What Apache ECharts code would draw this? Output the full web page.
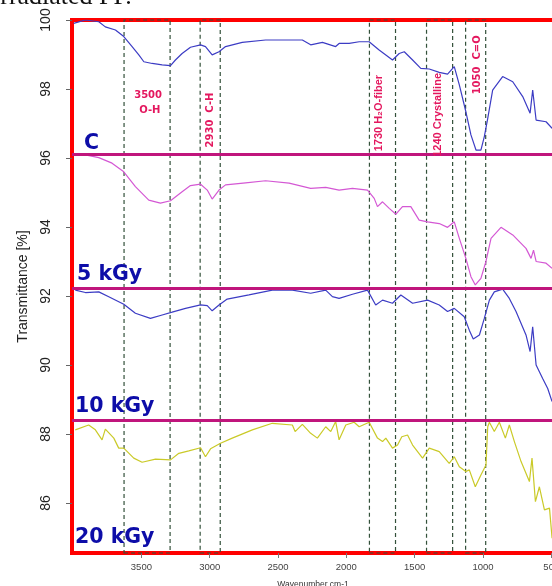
<!DOCTYPE html>
<html lang="en">
<head>
    <meta charset="UTF-8">
    <title>FTIR irradiated PP</title>
    <script src="https://cdn.jsdelivr.net/npm/echarts@6/dist/echarts.min.js"></script>
    <style>
        html, body { margin: 0; padding: 0; background: #fff; }
        #chart { width: 552px; height: 586px; }
    </style>
</head>
<body>
    <div id="chart"></div>
    <script>
        // spectra (wavenumber cm-1 / transmittance %)
        var wnC = [3996,3910,3812,3764,3690,3629,3568,3519,3482,3421,3348,3287,3251,3202,3141,3067,3031,2982,2932,2884,2762,2591,2444,2322,2261,2175,2078,2053,1979,1906,1833,1760,1662,1613,1576,1515,1455,1393,1320,1259,1210,1173,1125,1088,1051,1015,990,965,929,856,782,709,655,636,611,538,494];
        var tC = [99.90,100.0,99.95,99.8,99.71,99.52,99.23,98.99,98.79,98.74,98.70,98.68,98.84,99.03,99.21,99.28,99.23,98.99,99.08,99.23,99.35,99.42,99.42,99.42,99.28,99.35,99.23,99.32,99.32,99.37,99.37,99.13,98.84,99.03,99.08,98.84,98.6,98.58,98.48,98.43,98.65,98.12,97.34,96.67,96.23,96.23,96.62,97.15,97.97,98.36,98.21,97.78,97.3,97.97,97.1,97.05,96.86];

        var wn5 = [3996,3910,3812,3715,3629,3544,3446,3361,3287,3202,3141,3067,3018,2982,2932,2884,2737,2591,2419,2261,2151,2053,1955,1845,1796,1772,1735,1686,1637,1589,1528,1467,1405,1320,1259,1210,1173,1125,1088,1056,1015,978,941,868,782,685,648,630,611,538,494];
        var t5 = [96.12,96.09,96.01,95.85,95.6,95.17,94.78,94.69,94.76,95.02,95.2,95.24,95.07,94.81,95.07,95.22,95.28,95.34,95.27,95.12,95.15,95.07,95.12,95.07,94.83,94.59,94.73,94.54,94.37,94.59,94.59,94.2,94.15,94.1,93.99,94.15,93.67,93.09,92.56,92.32,92.51,93.0,93.67,93.99,93.77,93.38,93.09,93.33,93.0,92.95,92.8];

        var wn10 = [3984,3910,3812,3739,3629,3544,3434,3348,3275,3177,3067,3018,2982,2932,2872,2713,2542,2395,2261,2151,2102,2053,1955,1845,1785,1735,1662,1601,1515,1405,1320,1259,1210,1137,1100,1071,1026,990,953,917,856,807,758,685,655,636,611,563,526,494];
        var t10 = [92.17,92.1,92.12,91.98,91.76,91.5,91.35,91.45,91.53,91.64,91.74,91.72,91.57,91.74,91.91,92.03,92.17,92.17,92.08,92.17,91.98,91.93,92.05,92.17,91.74,91.88,91.79,92.03,91.79,91.88,91.74,91.55,91.64,91.4,91.01,90.75,90.87,91.35,91.88,92.12,92.2,91.93,91.55,90.87,90.39,91.11,90.0,89.61,89.32,88.94];

        var wn20 = [3984,3886,3837,3788,3764,3702,3666,3629,3556,3495,3397,3287,3226,3153,3067,3031,2994,2921,2835,2688,2542,2395,2375,2322,2261,2212,2151,2114,2078,2053,2004,1943,1906,1833,1772,1735,1711,1662,1625,1594,1552,1515,1442,1393,1320,1247,1210,1173,1125,1100,1056,1015,978,965,953,917,880,836,807,770,721,660,641,616,587,550,513,494];
        var t20 = [88.12,88.26,88.12,87.83,88.14,87.88,87.59,87.59,87.3,87.18,87.27,87.25,87.44,87.51,87.6,87.34,87.57,87.73,87.88,88.12,88.31,88.26,88.07,88.28,88.02,87.88,88.21,88.07,88.36,87.83,88.26,88.34,88.21,88.34,87.88,87.78,87.88,87.59,87.68,87.92,87.97,87.68,87.3,87.59,87.49,87.15,87.34,87.05,86.91,86.96,86.47,86.81,87.1,88.21,88.34,88.07,88.34,87.88,88.26,87.78,87.2,86.62,87.3,86.04,86.47,85.8,85.85,84.98];

        var xTicks = [3500, 3000, 2500, 2000, 1500, 1000, 500];
        var yTicks = [86, 88, 90, 92, 94, 96, 98, 100];

        // band limits (dashed boxes) and separator levels
        var bands = [[3627, 3290], [3070, 2923], [1831, 1640], [1413, 1222], [1127, 980]];
        var separators = [96.1, 92.22, 88.39];
        var sampleNames = ['C', '5 kGy', '10 kGy', '20 kGy'];
        var bandNotes = ['3500\n O-H', '2930  C-H', '1730 H\u2082O-fiber', '1240 Crystalline', '1050  C=O'];

        function pairs(xs, ys) {
            return xs.map(function (x, i) { return [x, ys[i]]; });
        }

        var pink = '#e4175e';
        var boldNote = { fontFamily: 'DejaVu Sans', fontWeight: 'bold', fontSize: 10, color: pink };
        var narrowNote = { fontFamily: 'Liberation Sans Narrow, Arial Narrow, sans-serif', fontWeight: 'bold', fontSize: 11, color: pink };

        var chart = echarts.init(document.getElementById('chart'));

        var option = {
            animation: false,
            grid: {
                left: 72, top: 20, width: 482, height: 533,
                show: true, borderColor: '#ff0000', borderWidth: 4,
                containLabel: false, outerBoundsMode: 'none'
            },
            xAxis: {
                type: 'value', inverse: true, min: 480, max: 4008,
                name: 'Wavenumber cm-1', nameLocation: 'middle', nameGap: 27,
                nameTextStyle: { fontSize: 8.5, color: '#333', fontFamily: 'Liberation Sans' },
                axisLine: { show: false },
                axisTick: { show: true, length: 5, customValues: xTicks, lineStyle: { color: '#777' } },
                axisLabel: {
                    customValues: xTicks, fontSize: 9.5, color: '#444', margin: 9, fontFamily: 'Liberation Sans',
                    formatter: function (v) { return String(v); }
                },
                splitLine: { show: false }
            },
            yAxis: {
                type: 'value', min: 84.55, max: 100,
                name: 'Transmittance [%]', nameLocation: 'middle', nameGap: 42,
                nameTextStyle: { fontSize: 14, color: '#222', fontFamily: 'Liberation Sans' },
                axisLine: { show: false },
                axisTick: { show: true, length: 6, customValues: yTicks, lineStyle: { color: '#666' } },
                axisLabel: { customValues: yTicks, rotate: 90, fontSize: 14, color: '#222', margin: 19, fontFamily: 'Liberation Sans' },
                splitLine: { show: false }
            },
            series: [
                {
                    name: sampleNames[0], type: 'line', showSymbol: false,
                    data: pairs(wnC, tC),
                    lineStyle: { color: '#3c3cc4', width: 1.2 },
                    z: 3,
                    markLine: {
                        silent: true, symbol: ['none', 'none'], label: { show: false },
                        lineStyle: { color: '#c0157c', width: 3, type: 'solid' },
                        data: separators.map(function (v) { return { yAxis: v }; })
                    },
                    markArea: {
                        silent: true,
                        itemStyle: { color: 'rgba(0,0,0,0)', borderColor: '#33513a', borderWidth: 1.2, borderType: [4, 3] },
                        data: bands.map(function (b) { return [{ xAxis: b[0] }, { xAxis: b[1] }]; })
                    },
                    markPoint: {
                        silent: true, symbol: 'circle', symbolSize: 0,
                        data: [
                            { coord: [3451, 97.59], label: Object.assign({ show: true, formatter: bandNotes[0], lineHeight: 15, align: 'center' }, boldNote) },
                            { coord: [2994, 97.1], label: Object.assign({ show: true, formatter: bandNotes[1], rotate: 90 }, boldNote) },
                            { coord: [1760, 97.3], label: Object.assign({ show: true, formatter: bandNotes[2], rotate: 90 }, narrowNote) },
                            { coord: [1332, 97.25], label: Object.assign({ show: true, formatter: bandNotes[3], rotate: 90 }, narrowNote) },
                            { coord: [1039, 98.7], label: Object.assign({ show: true, formatter: bandNotes[4], rotate: 90 }, boldNote) }
                        ]
                    }
                },
                { name: sampleNames[1], type: 'line', showSymbol: false, data: pairs(wn5, t5), lineStyle: { color: '#d458d4', width: 1.2 } },
                { name: sampleNames[2], type: 'line', showSymbol: false, data: pairs(wn10, t10), lineStyle: { color: '#3c3cc4', width: 1.2 } },
                { name: sampleNames[3], type: 'line', showSymbol: false, data: pairs(wn20, t20), lineStyle: { color: '#caca28', width: 1.2 } }
            ],
            graphic: [
                { type: 'text', x: -7, y: 10, style: { text: 'irradiated PP.', font: '26px "Liberation Serif"', fill: '#111', verticalAlign: 'bottom' } },
                { type: 'text', x: 84, y: 143.5, z: 10, style: { text: sampleNames[0], font: 'bold 20.5px "DejaVu Sans"', fill: '#0d0da8', verticalAlign: 'middle' } },
                { type: 'text', x: 77, y: 274.5, z: 10, style: { text: sampleNames[1], font: 'bold 20.5px "DejaVu Sans"', fill: '#0d0da8', verticalAlign: 'middle' } },
                { type: 'text', x: 75, y: 406.5, z: 10, style: { text: sampleNames[2], font: 'bold 20.5px "DejaVu Sans"', fill: '#0d0da8', verticalAlign: 'middle' } },
                { type: 'text', x: 75, y: 538, z: 10, style: { text: sampleNames[3], font: 'bold 20.5px "DejaVu Sans"', fill: '#0d0da8', verticalAlign: 'middle' } }
            ]
        };

        chart.setOption(option);
    </script>
</body>
</html>
